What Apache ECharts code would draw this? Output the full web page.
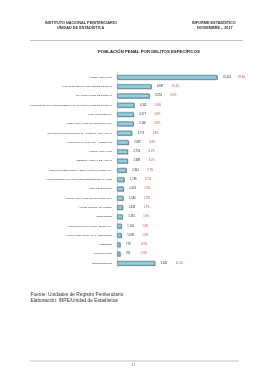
<!DOCTYPE html>
<html><head><meta charset="utf-8">
<script src="https://cdn.jsdelivr.net/npm/echarts@6/dist/echarts.min.js"></script>
<style>html,body{margin:0;padding:0;background:#fff}#c{width:268px;height:380px}</style>
</head><body><div id="c"></div>
<script>
const categories = [
  'ROBO AGRAVADO',
  'VIOLACIÓN SEXUAL DE MENOR DE EDAD',
  'TRÁFICO ILÍCITO DE DROGAS',
  'PROMOCIÓN O FAVORECIMIENTO AL TRÁFICO ILÍCITO DE DROGAS',
  'VIOLACIÓN SEXUAL',
  'ROBO AGRAVADO GRADO TENTATIVA',
  'TRÁFICO ILÍCITO DE DROGAS - FORMAS AGRAVADAS',
  'HOMICIDIO CALIFICADO - ASESINATO',
  'HURTO AGRAVADO',
  'TENENCIA ILEGAL DE ARMAS',
  'INCUMPLIMIENTO DE LA OBLIGACIÓN ALIMENTARIA',
  'ACTOS CONTRA EL PUDOR EN MENORES DE 14 AÑOS',
  'HOMICIDIO SIMPLE',
  'HURTO AGRAVADO GRADO TENTATIVA',
  'ACTOS CONTRA EL PUDOR',
  'SECUESTRO',
  'HOMICIDIO CALIFICADO - TENTATIVA',
  'ASOCIACIÓN ILÍCITA PARA DELINQUIR',
  'LESIONES',
  'HURTO SIMPLE',
  'OTROS DELITOS'
];
const values = [25541, 8697, 8254, 4352, 4177, 4160, 3752, 2887, 2701, 2688, 2354, 1799, 1623, 1540, 1438, 1361, 1105, 1098, 778, 761, 9642];
const percents = ['29.6%', '10.1%', '9.5%', '5.0%', '4.8%', '4.8%', '4.3%', '3.3%', '3.1%', '3.1%', '2.7%', '2.1%', '1.9%', '1.8%', '1.7%', '1.6%', '1.3%', '1.3%', '0.9%', '0.9%', '11.1%'];

const chart = echarts.init(document.getElementById('c'), null, {renderer: 'canvas'});
const fmt = v => v.toLocaleString('en-US');
chart.setOption({
  backgroundColor: '#fff',
  animation: false,
  textStyle: {fontFamily: 'Liberation Sans, Arial, sans-serif'},
  grid: {left: 117, top: 72.4, width: 117.5, height: 195.3, containLabel: false},
  xAxis: {type: 'value', min: 0, max: 30000, show: false},
  yAxis: {
    type: 'category', data: categories, inverse: true,
    axisLine: {show: true, lineStyle: {color: '#cfcfcf', width: 0.8}},
    axisTick: {show: false},
    axisLabel: {fontSize: 2.5, color: '#333', margin: 5, interval: 0}
  },
  series: [{
    type: 'bar', data: values, barWidth: 4.6,
    itemStyle: {
      color: '#96CFDF', borderColor: '#5F8D9B', borderWidth: 0.5,
      shadowColor: 'rgba(80,110,120,0.8)', shadowOffsetX: 0.7, shadowOffsetY: 0.7, shadowBlur: 0
    },
    label: {
      show: true, position: 'right', distance: 6,
      formatter: p => '{v|' + fmt(p.value) + '}{p|' + percents[p.dataIndex] + '}',
      rich: {
        v: {fontSize: 2.6, color: '#222', width: 13},
        p: {fontSize: 2.6, color: '#C0392B', padding: [0, 0, 0, 2]}
      }
    }
  }],
  graphic: [
    {type: 'text', left: 45, top: 20.5, style: {text: 'INSTITUTO NACIONAL PENITENCIARIO', fontSize: 3.8, fontWeight: 'bold', fill: '#333'}},
    {type: 'text', left: 57, top: 25.5, style: {text: 'UNIDAD DE ESTADÍSTICA', fontSize: 3.8, fontWeight: 'bold', fill: '#333'}},
    {type: 'text', left: 192, top: 20.5, style: {text: 'INFORME ESTADÍSTICO', fontSize: 3.8, fontWeight: 'bold', fill: '#333'}},
    {type: 'text', left: 197, top: 25.5, style: {text: 'NOVIEMBRE – 2017', fontSize: 3.8, fontWeight: 'bold', fill: '#333'}},
    {type: 'line', shape: {x1: 30, y1: 40.5, x2: 243, y2: 40.5}, style: {stroke: '#b0b0b0', lineWidth: 0.8}},
    {type: 'text', left: 98, top: 49.5, style: {text: 'POBLACIÓN PENAL POR DELITOS ESPECÍFICOS', fontSize: 4.3, fontWeight: 'bold', fill: '#222'}},
    {type: 'text', left: 30.5, top: 292.5, style: {text: 'Fuente: Unidades de Registro Penitenciario', fontSize: 4.8, fill: '#333'}},
    {type: 'text', left: 30.5, top: 298.5, style: {text: 'Elaboración: INPE/Unidad de Estadística', fontSize: 4.8, fill: '#333'}},
    {type: 'line', shape: {x1: 30, y1: 361, x2: 239, y2: 361}, style: {stroke: '#b0b0b0', lineWidth: 0.8}},
    {type: 'text', left: 131.5, top: 363.5, style: {text: '21', fontSize: 3, fill: '#444'}}
  ]
});
</script></body></html>
